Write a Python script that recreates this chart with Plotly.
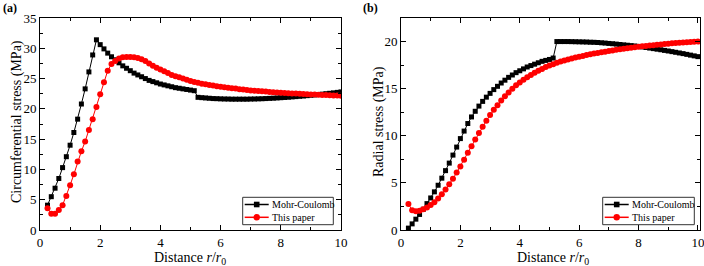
import plotly.graph_objects as go

W, H = 704, 266

# ---------------- data ----------------
r = [0.25, 0.375, 0.5, 0.625, 0.75, 0.875, 1.0, 1.125, 1.25, 1.375, 1.5, 1.625, 1.75, 1.875,
     2.0, 2.125, 2.25, 2.375, 2.5, 2.625, 2.75, 2.875, 3.0, 3.125, 3.25, 3.375, 3.5, 3.625,
     3.75, 3.875, 4.0, 4.125, 4.25, 4.375, 4.5, 4.625, 4.75, 4.875, 5.0, 5.125, 5.25, 5.375,
     5.5, 5.625, 5.75, 5.875, 6.0, 6.125, 6.25, 6.375, 6.5, 6.625, 6.75, 6.875, 7.0, 7.125,
     7.25, 7.375, 7.5, 7.625, 7.75, 7.875, 8.0, 8.125, 8.25, 8.375, 8.5, 8.625, 8.75, 8.875,
     9.0, 9.125, 9.25, 9.375, 9.5, 9.625, 9.75, 9.875, 10.0]

circ_mc = [4.1, 5.5, 6.9, 8.5, 10.3, 12.1, 14.0, 16.1, 18.3, 20.8, 23.3, 26.1, 28.9, 31.4,
           30.6, 29.9, 29.2, 28.6, 28.1, 27.6, 27.1, 26.7, 26.3, 25.9, 25.6, 25.3, 25.0, 24.7,
           24.5, 24.3, 24.1, 23.95, 23.8, 23.65, 23.5, 23.4, 23.3, 23.2, 23.1, 23.0, 21.9, 21.85,
           21.8, 21.75, 21.7, 21.68, 21.65, 21.63, 21.62, 21.6, 21.6, 21.6, 21.6, 21.6, 21.62, 21.63,
           21.65, 21.67, 21.7, 21.73, 21.76, 21.8, 21.84, 21.88, 21.92, 21.97, 22.02, 22.07, 22.12, 22.18,
           22.24, 22.3, 22.36, 22.43, 22.5, 22.57, 22.64, 22.72, 22.8]

circ_tp = [3.6, 2.7, 2.7, 3.3, 4.1, 5.6, 7.4, 9.2, 11.3, 13.0, 14.6, 16.5, 18.3, 20.3,
           22.4, 24.4, 26.3, 27.4, 27.9, 28.3, 28.5, 28.55, 28.55, 28.5, 28.4, 28.2, 27.9, 27.5,
           27.1, 26.8, 26.5, 26.2, 25.9, 25.6, 25.4, 25.2, 25.0, 24.8, 24.6, 24.45, 24.3, 24.15,
           24.05, 23.95, 23.85, 23.75, 23.65, 23.55, 23.5, 23.4, 23.35, 23.25, 23.2, 23.1, 23.05, 23.0,
           22.95, 22.9, 22.85, 22.8, 22.75, 22.7, 22.65, 22.62, 22.58, 22.55, 22.52, 22.48, 22.45, 22.42,
           22.38, 22.35, 22.32, 22.3, 22.27, 22.25, 22.22, 22.2, 22.18]

rad_mc = [0.2, 0.65, 1.15, 1.65, 2.2, 2.8, 3.4, 4.05, 4.75, 5.5, 6.3, 7.1, 7.95, 8.8,
          9.7, 10.5, 11.3, 12.0, 12.6, 13.15, 13.65, 14.1, 14.5, 14.9, 15.25, 15.6, 15.9, 16.2,
          16.45, 16.7, 16.9, 17.1, 17.3, 17.45, 17.6, 17.75, 17.9, 18.0, 18.1, 18.25, 20.0, 20.0,
          20.0, 20.0, 19.99, 19.98, 19.97, 19.96, 19.95, 19.93, 19.92, 19.9, 19.87, 19.84, 19.8, 19.77,
          19.73, 19.69, 19.65, 19.61, 19.57, 19.53, 19.48, 19.43, 19.37, 19.31, 19.25, 19.19, 19.13, 19.06,
          19.0, 18.93, 18.86, 18.79, 18.72, 18.64, 18.56, 18.48, 18.4]

rad_tp = [2.75, 2.1, 2.0, 2.05, 2.2, 2.4, 2.65, 2.95, 3.35, 3.8, 4.3, 4.85, 5.45, 6.1,
          6.75, 7.45, 8.2, 8.9, 9.6, 10.3, 10.95, 11.6, 12.2, 12.75, 13.25, 13.75, 14.2, 14.6,
          15.0, 15.35, 15.65, 15.95, 16.2, 16.45, 16.7, 16.9, 17.1, 17.3, 17.45, 17.6, 17.75, 17.88,
          18.0, 18.1, 18.2, 18.3, 18.4, 18.48, 18.56, 18.64, 18.72, 18.79, 18.86, 18.93, 19.0, 19.06,
          19.12, 19.18, 19.24, 19.29, 19.34, 19.39, 19.44, 19.49, 19.54, 19.58, 19.62, 19.66, 19.7, 19.74,
          19.78, 19.81, 19.84, 19.87, 19.9, 19.93, 19.96, 19.98, 20.0]

series_names = ["Mohr-Coulomb", "This paper"]
x_ticks = [0, 2, 4, 6, 8, 10]
y1_ticks = [0, 5, 10, 15, 20, 25, 30, 35]
y2_ticks = [0, 5, 10, 15, 20]

FONT = "Liberation Serif, Times New Roman, serif"
BLACK = "#000000"
RED = "#ff0000"


def px(x):
    return x / W


def py(y):
    return 1 - y / H


fig = go.Figure()

styles = [
    dict(color=BLACK, symbol="square", size=5),
    dict(color=RED, symbol="circle", size=6),
]

for (ys, axn) in [((circ_mc, circ_tp), ""), ((rad_mc, rad_tp), "2")]:
    for i, yv in enumerate(ys):
        st = styles[i]
        fig.add_trace(go.Scatter(
            x=r, y=yv, mode="lines+markers", name=series_names[i], showlegend=False,
            line=dict(color=st["color"], width=1),
            marker=dict(symbol=st["symbol"], size=st["size"], color=st["color"],
                        line=dict(width=0)),
            xaxis="x" + axn, yaxis="y" + axn,
        ))

axis_common = dict(
    showline=True, linecolor=BLACK, linewidth=1, mirror="ticks",
    ticks="inside", ticklen=5, tickwidth=1, tickcolor=BLACK,
    showgrid=False, zeroline=False,
    tickfont=dict(family=FONT, size=13, color=BLACK),
    ticklabeloverflow="allow",
    automargin=False,
)

fig.update_layout(
    width=W, height=H,
    margin=dict(l=0, r=0, t=0, b=0),
    paper_bgcolor="white", plot_bgcolor="white",
    showlegend=False,
    font=dict(family=FONT, color=BLACK),
    xaxis=dict(domain=[px(40), px(341)], range=[0, 10], tickvals=x_ticks,
               minor=dict(ticks="inside", ticklen=3, dtick=1, tickcolor=BLACK),
               anchor="y", **axis_common),
    yaxis=dict(domain=[py(230), py(18)], range=[0, 35], tickvals=y1_ticks,
               minor=dict(ticks="inside", ticklen=3, dtick=2.5, tickcolor=BLACK),
               anchor="x", **axis_common),
    xaxis2=dict(domain=[px(401), px(700)], range=[0, 10.07], tickvals=x_ticks,
                minor=dict(ticks="inside", ticklen=3, dtick=1, tickcolor=BLACK),
                anchor="y2", **axis_common),
    yaxis2=dict(domain=[py(230), py(18)], range=[0, 22.5], tickvals=y2_ticks,
                minor=dict(ticks="inside", ticklen=3, dtick=2.5, tickcolor=BLACK),
                anchor="x2", **axis_common),
)

ann = []
tfont = dict(family=FONT, size=14, color=BLACK)
ann.append(dict(text="Circumferential stress (MPa)", x=px(17), y=py(122), xref="paper", yref="paper",
                textangle=-90, showarrow=False, font=tfont, xanchor="center", yanchor="middle"))
ann.append(dict(text="Radial stress (MPa)", x=px(379), y=py(122), xref="paper", yref="paper",
                textangle=-90, showarrow=False, font=tfont, xanchor="center", yanchor="middle"))
for cx in (190.5, 552.5):
    ann.append(dict(text="Distance <i>r</i>/<i>r</i><sub>0</sub>", x=px(cx), y=py(258),
                    xref="paper", yref="paper", showarrow=False, font=tfont,
                    xanchor="center", yanchor="middle"))
ann.append(dict(text="<b>(a)</b>", x=px(1), y=py(8), xref="paper", yref="paper", showarrow=False,
                font=dict(family=FONT, size=12, color=BLACK), xanchor="left", yanchor="middle"))
ann.append(dict(text="<b>(b)</b>", x=px(361), y=py(8), xref="paper", yref="paper", showarrow=False,
                font=dict(family=FONT, size=12, color=BLACK), xanchor="left", yanchor="middle"))

shapes = []
# manual legends (one per panel)
for (bx0, bx1, by0, by1) in [(242.7, 333.3, 197.3, 224.7), (602.7, 694.3, 197.3, 224.7)]:
    shapes.append(dict(type="rect", xref="paper", yref="paper", x0=px(bx0), x1=px(bx1),
                       y0=py(by1), y1=py(by0), line=dict(color="#333333", width=1),
                       fillcolor="white", layer="above"))
    rows = [by0 + 7.2, by0 + 20.0]
    lx0, lx1 = bx0 + 2.0, bx0 + 26.0
    mx = (lx0 + lx1) / 2
    for i, ry in enumerate(rows):
        st = styles[i]
        shapes.append(dict(type="line", xref="paper", yref="paper", x0=px(lx0), x1=px(lx1),
                           y0=py(ry), y1=py(ry), line=dict(color=st["color"], width=1.5),
                           layer="above"))
        if st["symbol"] == "square":
            shapes.append(dict(type="rect", xref="paper", yref="paper", x0=px(mx - 2.8), x1=px(mx + 2.8),
                               y0=py(ry + 2.8), y1=py(ry - 2.8), fillcolor=st["color"],
                               line=dict(width=0), layer="above"))
        else:
            shapes.append(dict(type="circle", xref="paper", yref="paper", x0=px(mx - 3.2), x1=px(mx + 3.2),
                               y0=py(ry + 3.2), y1=py(ry - 3.2), fillcolor=st["color"],
                               line=dict(width=0), layer="above"))
        ann.append(dict(text=series_names[i], x=px(lx1 + 1.5), y=py(ry), xref="paper", yref="paper",
                        showarrow=False, font=dict(family=FONT, size=10, color=BLACK),
                        xanchor="left", yanchor="middle"))

fig.update_layout(annotations=ann, shapes=shapes)
fig.write_html("out.html")
